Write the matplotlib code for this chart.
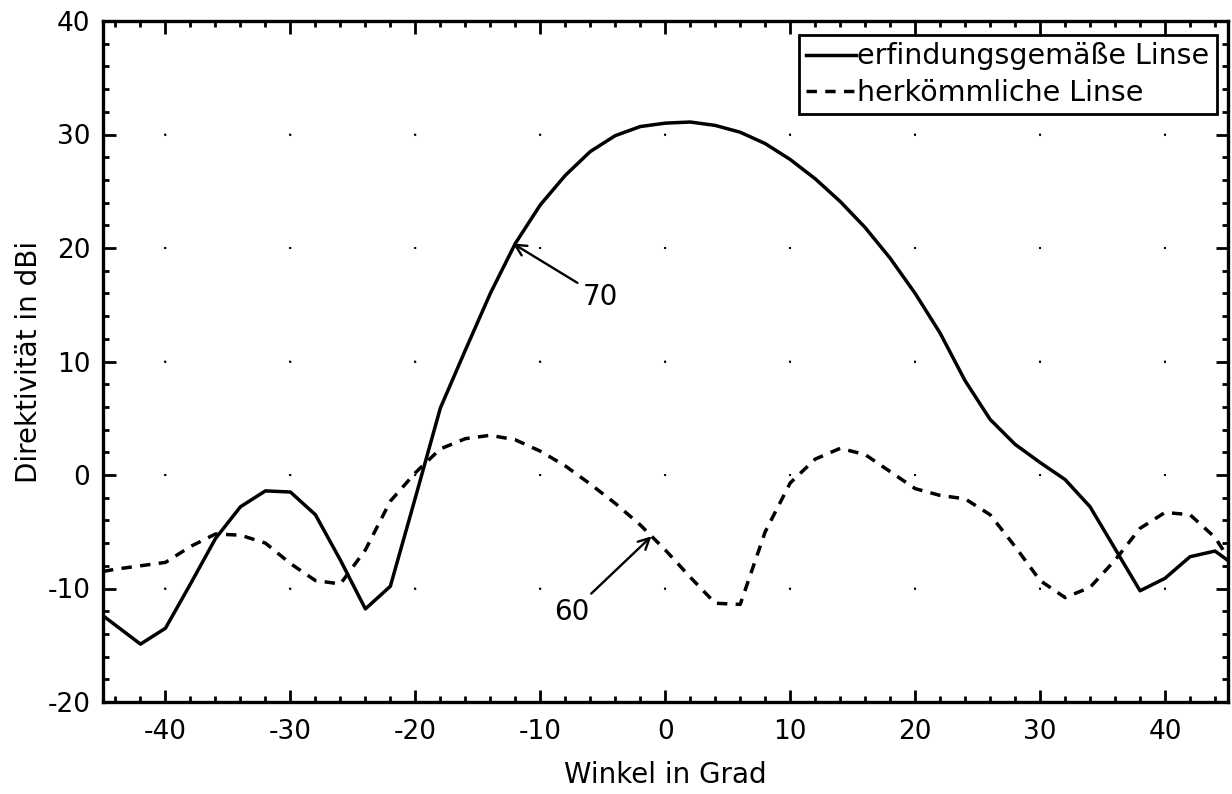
import matplotlib
matplotlib.use("Agg")
import matplotlib.pyplot as plt
from matplotlib.ticker import MultipleLocator

# Daten (Winkel in Grad, Direktivitaet in dBi)
winkel_neu = [-45, -42, -40, -38, -36, -34, -32, -30, -28, -26, -24, -22, -20, -18, -16, -14,
              -12, -10, -8, -6, -4, -2, 0, 2, 4, 6, 8, 10, 12, 14, 16, 18, 20, 22, 24, 26, 28,
              30, 32, 34, 36, 38, 40, 42, 44, 45]
dir_neu = [-12.4, -14.9, -13.5, -9.6, -5.6, -2.8, -1.4, -1.5, -3.5, -7.5, -11.8, -9.8, -2.0,
           5.9, 11.0, 16.0, 20.4, 23.8, 26.4, 28.5, 29.9, 30.7, 31.0, 31.1, 30.8, 30.2, 29.2,
           27.8, 26.1, 24.1, 21.8, 19.1, 16.0, 12.5, 8.3, 4.9, 2.7, 1.1, -0.4, -2.8, -6.5,
           -10.2, -9.1, -7.2, -6.7, -7.5]

winkel_alt = [-45, -44, -42, -40, -38, -36, -34, -32, -30, -28, -26, -24, -22, -20, -18, -16,
              -14, -12, -10, -8, -6, -4, -2, 0, 2, 4, 6, 8, 10, 12, 14, 16, 18, 20, 22, 24, 26,
              28, 30, 32, 34, 36, 38, 40, 42, 44, 45]
dir_alt = [-8.5, -8.3, -8.0, -7.7, -6.3, -5.2, -5.3, -6.0, -7.8, -9.3, -9.6, -6.6, -2.3, 0.2,
           2.3, 3.2, 3.5, 3.1, 2.1, 0.8, -0.8, -2.5, -4.4, -6.6, -9.0, -11.3, -11.4, -5.0, -0.7,
           1.4, 2.35, 1.8, 0.3, -1.2, -1.8, -2.1, -3.5, -6.3, -9.3, -10.8, -9.9, -7.5, -4.7,
           -3.3, -3.5, -5.5, -7.2]

labels = ['erfindungsgemäße Linse', 'herkömmliche Linse']
x_ticks = [-40, -30, -20, -10, 0, 10, 20, 30, 40]
y_ticks = [-20, -10, 0, 10, 20, 30, 40]

plt.rcParams['font.family'] = ['DejaVu Sans']
plt.rcParams['axes.unicode_minus'] = False

W, H = 1232, 794
fig = plt.figure(figsize=(W / 100, H / 100), dpi=100)
ax = fig.add_axes([103 / W, 1 - 702 / H, 1124.5 / W, 681 / H])

lw = 2.5
ax.plot(winkel_neu, dir_neu, color='k', lw=lw, label=labels[0], zorder=3)
ax.plot(winkel_alt, dir_alt, color='k', lw=lw, linestyle=(0, (3.0, 2.4)), label=labels[1], zorder=3)

ax.set_xlim(-45, 45)
ax.set_ylim(-20, 40)
ax.set_xticks(x_ticks)
ax.set_yticks(y_ticks)
ax.xaxis.set_minor_locator(MultipleLocator(2))
ax.yaxis.set_minor_locator(MultipleLocator(2))
ax.tick_params(which='both', direction='in', top=True, right=True, width=2, labelsize=19)
ax.tick_params(which='major', length=9)
ax.tick_params(which='minor', length=4)
ax.tick_params(axis='x', which='major', pad=12)
ax.tick_params(axis='y', which='major', pad=9)
for s in ax.spines.values():
    s.set_linewidth(2.4)

# Gitter nur als Punkte an den Kreuzungen (wie im Original)
glw = 1.5
on = 0.8
per_y = 1124.5 / 9 * 0.72 / glw      # Abstand zwischen x-Gitterlinien in lw-Einheiten
per_x = 681 / 6 * 0.72 / glw         # Abstand zwischen y-Gitterlinien in lw-Einheiten
ax.xaxis.grid(True, color='k', lw=glw, linestyle=(on / 2, (on, per_x - on)), zorder=1)
ax.yaxis.grid(True, color='k', lw=glw, linestyle=(on / 2 + per_y / 2, (on, per_y - on)), zorder=1)

ax.set_xlabel('Winkel in Grad', fontsize=20)
ax.set_ylabel('Direktivität in dBi', fontsize=20)
ax.xaxis.set_label_coords(0.5, -(761 - 702) / 681)
ax.yaxis.set_label_coords(-(103 - 43) / 1124.5, 0.5)

leg = ax.legend(loc='upper right', bbox_to_anchor=(1 - 10.8 / 1124.5, 1 - 14 / 681),
                borderaxespad=0, fontsize=20.5, handlelength=1.75, handletextpad=0.05,
                fancybox=False, framealpha=1, edgecolor='k', borderpad=0.25,
                labelspacing=0.3, handleheight=0.6)
leg.get_frame().set_linewidth(2)

ax.annotate('70', xy=(-12.2, 20.4), xytext=(-5.2, 15.7), ha='center', va='center',
            fontsize=20, arrowprops=dict(arrowstyle='->', color='k', lw=1.7,
                                         shrinkA=2, shrinkB=0))
ax.annotate('60', xy=(-1.1, -5.4), xytext=(-7.5, -12.1), ha='center', va='center',
            fontsize=20, arrowprops=dict(arrowstyle='->', color='k', lw=1.7,
                                         shrinkA=2, shrinkB=0))

fig.savefig('out.png', dpi=100)
